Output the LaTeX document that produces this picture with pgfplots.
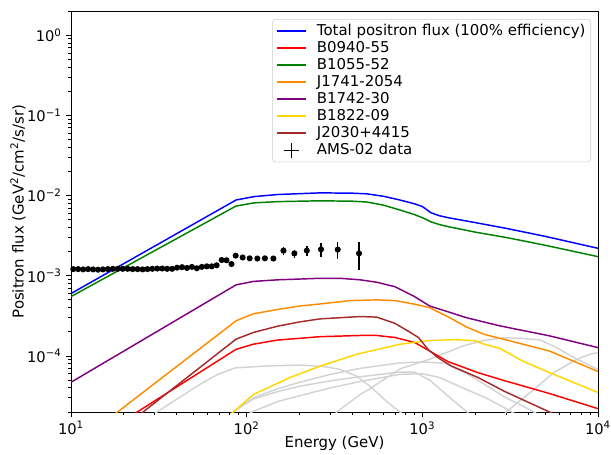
\documentclass[border=0pt]{standalone}
\usepackage{pgfplots}
\pgfplotsset{compat=1.18}
\usepackage{fontspec}
\setmainfont{DejaVu Sans}
\definecolor{mplgreen}{HTML}{008000}
\definecolor{mplorange}{HTML}{FF8C00}
\definecolor{mplpurple}{HTML}{800080}
\definecolor{mplgold}{HTML}{FFD700}
\definecolor{mplbrown}{HTML}{A52A2A}
\definecolor{mplgray}{HTML}{D3D3D3}
\pgfplotsset{
  mplline/.style={legend image code/.code={\path[use as bounding box, draw=none, fill=none] (0pt,-1pt) rectangle (29.25pt,1pt); \draw[color=#1, line width=1.1pt] (0pt,0pt) -- (22pt,0pt);}},
}
\begin{document}
\begin{tikzpicture}
\begin{axis}[
  scale only axis, width=395.25pt, height=300.75pt,
  xmode=log, ymode=log, log basis x=10, log basis y=10,
  xmin=10, xmax=10000, ymin=2e-5, ymax=2,
  font=\fontsize{11.2}{13}\selectfont,
  tick label style={font=\fontsize{11}{13}\selectfont},
  xtick={10,100,1000,10000},
  xticklabels={10\textsuperscript{1},10\textsuperscript{2},10\textsuperscript{3},10\textsuperscript{4}},
  minor xtick={20,30,40,50,60,70,80,90,200,300,400,500,600,700,800,900,2000,3000,4000,5000,6000,7000,8000,9000},
  ytick={1e-4,1e-3,1e-2,1e-1,1},
  yticklabels={10\textsuperscript{−4},10\textsuperscript{−3},10\textsuperscript{−2},10\textsuperscript{−1},10\textsuperscript{0}},
  minor ytick={2e-5,3e-5,4e-5,5e-5,6e-5,7e-5,8e-5,9e-5,2e-4,3e-4,4e-4,5e-4,6e-4,7e-4,8e-4,9e-4,2e-3,3e-3,4e-3,5e-3,6e-3,7e-3,8e-3,9e-3,2e-2,3e-2,4e-2,5e-2,6e-2,7e-2,8e-2,9e-2,0.2,0.3,0.4,0.5,0.6,0.7,0.8,0.9,2},
  tick align=outside, tick pos=left,
  major tick length=3.5pt, minor tick length=2pt,
  every tick/.style={black, line width=0.6pt},
  axis line style={black, line width=0.6pt},
  xlabel={Energy (GeV)},
  ylabel={Positron flux (GeV\textsuperscript{2}/cm\textsuperscript{2}/s/sr)},
  every axis x label/.style={at={(axis description cs:0.5,0)}, anchor=center, yshift=-23.5pt, font=\fontsize{11.2}{13}\selectfont},
  every axis y label/.style={at={(axis description cs:-0.1006,0.5)}, rotate=90, anchor=center, font=\fontsize{11.2}{13}\selectfont},
  legend style={at={(1,1)}, anchor=north east, xshift=-5.25pt, yshift=-6pt,
    draw=black!20, rounded corners=2pt, fill=white,
    font=\fontsize{11.2}{13}\selectfont, inner sep=3pt, row sep=1.4pt,
    nodes={inner xsep=1pt, inner ysep=0pt, text height=8.8pt, text depth=2.6pt}},
  legend cell align=left,
  every axis plot/.append style={line width=1.1pt},
]
% background pulsars (grey)
\addplot[mplgray, forget plot] coordinates {(25,1.5e-5)(30.8,2e-5)(54,4.4e-5)(67.5,5.8e-5)(86,7.1e-5)(130,7.5e-5)(201,7.7e-5)(273,7.4e-5)(340,6.8e-5)(423,5.6e-5)(503,4.2e-5)(627,2.7e-5)(746,2.0e-5)(850,1.6e-5)};
\addplot[mplgray, forget plot] coordinates {(78,1.5e-5)(84,2e-5)(109,3.0e-5)(150,3.9e-5)(201,4.7e-5)(300,5.9e-5)(442,7.0e-5)(746,8.2e-5)(1000,8.4e-5)(1350,8.1e-5)(1900,5.6e-5)(2600,3.65e-5)(3000,3.0e-5)(3700,2.4e-5)(4500,1.9e-5)};
\addplot[mplgray, forget plot] coordinates {(78,1.5e-5)(83,2e-5)(109,2.9e-5)(150,3.6e-5)(201,4.2e-5)(300,4.9e-5)(442,5.5e-5)(746,6.3e-5)(900,6.3e-5)(1100,5.0e-5)(1440,3.0e-5)(1800,2.0e-5)(2000,1.6e-5)};
\addplot[mplgray, forget plot] coordinates {(100,1.8e-5)(107,2.0e-5)(150,2.7e-5)(201,3.2e-5)(300,4.0e-5)(442,4.8e-5)(746,5.9e-5)(1000,6.0e-5)(1250,5.4e-5)(1700,4.0e-5)(2300,3.0e-5)(3000,2.2e-5)(3500,1.8e-5)};
\addplot[mplgray, forget plot] coordinates {(300,1.6e-5)(326,2e-5)(442,3.3e-5)(503,3.9e-5)(746,6.9e-5)(1100,9.1e-5)(1700,1.33e-4)(2200,1.55e-4)(2900,1.68e-4)(3700,1.66e-4)(4700,1.58e-4)(5800,1.27e-4)(7600,9.1e-5)(10000,6.8e-5)};
\addplot[mplgray, forget plot] coordinates {(2800,1.6e-5)(3000,2e-5)(4300,3.8e-5)(5600,6.2e-5)(7600,9.1e-5)(9000,1.05e-4)(10000,1.1e-4)};
% total and named pulsars
\addplot[blue, forget plot] coordinates {(10,6.0e-4)(87,8.8e-3)(110,9.7e-3)(150,1.03e-2)(262,1.08e-2)(400,1.07e-2)(484,1.05e-2)(600,9.8e-3)(746,8.8e-3)(900,7.9e-3)(1000,7.3e-3)(1120,6.1e-3)(1250,5.6e-3)(1400,5.3e-3)(2000,4.6e-3)(3000,3.9e-3)(5000,3.1e-3)(10000,2.2e-3)};
\addplot[red, forget plot] coordinates {(10,6.0e-6)(23.8,2e-5)(87,1.21e-4)(109,1.4e-4)(150,1.58e-4)(201,1.66e-4)(262,1.74e-4)(442,1.8e-4)(550,1.8e-4)(698,1.7e-4)(905,1.47e-4)(1080,1.18e-4)(1400,8.5e-5)(2070,6.2e-5)(2950,4.9e-5)(5300,3.4e-5)(10000,2.2e-5)};
\addplot[mplgreen, forget plot] coordinates {(10,5.5e-4)(87,7.4e-3)(110,8.1e-3)(150,8.4e-3)(262,8.6e-3)(400,8.5e-3)(484,8.3e-3)(600,7.6e-3)(746,6.6e-3)(900,5.8e-3)(1000,5.3e-3)(1120,4.7e-3)(1250,4.35e-3)(1400,4.1e-3)(2000,3.5e-3)(3000,3.0e-3)(5000,2.4e-3)(10000,1.73e-3)};
\addplot[mplorange, forget plot] coordinates {(10,7.2e-6)(18.4,2e-5)(87,2.74e-4)(109,3.35e-4)(150,3.8e-4)(201,4.2e-4)(262,4.45e-4)(387,4.9e-4)(548,5.0e-4)(698,4.9e-4)(890,4.45e-4)(1100,4.0e-4)(1430,3.0e-4)(1780,2.3e-4)(2250,1.86e-4)(2950,1.6e-4)(5300,1.15e-4)(10000,6.4e-5)};
\addplot[mplpurple, forget plot] coordinates {(10,4.7e-5)(87,7.7e-4)(109,8.5e-4)(150,8.9e-4)(201,9.1e-4)(262,9.3e-4)(350,9.25e-4)(442,8.9e-4)(550,8.3e-4)(698,7.3e-4)(890,5.6e-4)(1100,4.2e-4)(1430,3.5e-4)(1780,3.0e-4)(2770,2.37e-4)(5300,1.78e-4)(10000,1.27e-4)};
\addplot[mplgold, forget plot] coordinates {(75,1.5e-5)(84,2e-5)(109,3.3e-5)(177,5.4e-5)(273,7.7e-5)(423,1.05e-4)(746,1.4e-4)(1080,1.55e-4)(1540,1.6e-4)(2000,1.55e-4)(2250,1.4e-4)(2770,1.24e-4)(3700,8.7e-5)(5300,6.2e-5)(10000,3.5e-5)};
\addplot[mplbrown, forget plot] coordinates {(10,4.0e-6)(25.7,2e-5)(87,1.62e-4)(109,1.96e-4)(150,2.35e-4)(201,2.66e-4)(262,2.9e-4)(442,3.1e-4)(550,3.05e-4)(698,2.55e-4)(830,2.04e-4)(950,1.7e-4)(1080,1.2e-4)(1230,9.5e-5)(1460,7.5e-5)(2070,5.4e-5)(2950,3.6e-5)(5300,2.0e-5)(10000,1.0e-5)};
% AMS-02 data
\addplot[black, only marks, mark=*, mark size=1.7pt, forget plot,
  error bars/.cd, y dir=both, y explicit, error mark=none,
  error bar style={black, line width=1.1pt}]
  table[x=x, y=y, y error=e] {
x y e
10.30 1.21e-3 2.5e-5
10.99 1.21e-3 2.5e-5
11.73 1.20e-3 2.5e-5
12.51 1.21e-3 2.5e-5
13.35 1.20e-3 2.5e-5
14.24 1.19e-3 2.5e-5
15.20 1.20e-3 2.5e-5
16.21 1.21e-3 2.5e-5
17.30 1.22e-3 2.5e-5
18.46 1.22e-3 2.5e-5
19.69 1.22e-3 2.5e-5
21.01 1.22e-3 2.5e-5
22.42 1.21e-3 2.5e-5
23.92 1.21e-3 2.5e-5
25.55 1.20e-3 2.5e-5
27.23 1.21e-3 2.5e-5
29.05 1.22e-3 2.5e-5
31.00 1.23e-3 3e-5
33.07 1.23e-3 3e-5
35.29 1.22e-3 3e-5
37.65 1.22e-3 3e-5
40.17 1.26e-3 3e-5
42.86 1.28e-3 3e-5
45.73 1.25e-3 3.5e-5
48.80 1.29e-3 3.5e-5
52.06 1.24e-3 3.5e-5
55.55 1.29e-3 4e-5
59.27 1.31e-3 4e-5
63.24 1.31e-3 4e-5
67.48 1.35e-3 4.5e-5
72.00 1.57e-3 5e-5
76.82 1.56e-3 5e-5
81.97 1.40e-3 5e-5
86.6 1.78e-3 7e-5
94.9 1.69e-3 7e-5
104 1.65e-3 8e-5
115 1.64e-3 9e-5
127 1.65e-3 1e-4
142 1.64e-3 1.2e-4
162 2.06e-3 2.2e-4
187 1.90e-3 2.2e-4
220 2.06e-3 3e-4
265 2.13e-3 4e-4
330 2.12e-3 4.8e-4
436 1.90e-3 7.3e-4
};
% legend
\addlegendimage{mplline=blue}
\addlegendentry{Total positron flux (100\% efficiency)}
\addlegendimage{mplline=red}
\addlegendentry{B0940-55}
\addlegendimage{mplline=mplgreen}
\addlegendentry{B1055-52}
\addlegendimage{mplline=mplorange}
\addlegendentry{J1741-2054}
\addlegendimage{mplline=mplpurple}
\addlegendentry{B1742-30}
\addlegendimage{mplline=mplgold}
\addlegendentry{B1822-09}
\addlegendimage{legend image code/.code={\path[use as bounding box, draw=none, fill=none] (0pt,-1pt) rectangle (29.25pt,1pt); \draw[draw={rgb,255:red,165;green,42;blue,42}, line width=1.3pt] (0pt,0.4pt) -- (22pt,0.4pt);}}
\addlegendentry{J2030+4415}
\addlegendimage{legend image code/.code={\path[use as bounding box, draw=none, fill=none] (0pt,-1pt) rectangle (29.25pt,1pt); \draw[black, line width=1.1pt] (5.5pt,0pt) -- (16.5pt,0pt); \draw[black, line width=1.1pt] (11pt,-5.6pt) -- (11pt,5.6pt);}}
\addlegendentry{AMS-02 data}
\end{axis}
\pgfresetboundingbox
\useasboundingbox ([xshift=-53.25pt,yshift=-31.5pt]current axis.south west) rectangle ([xshift=9.75pt,yshift=8.25pt]current axis.north east);
\end{tikzpicture}
\end{document}
